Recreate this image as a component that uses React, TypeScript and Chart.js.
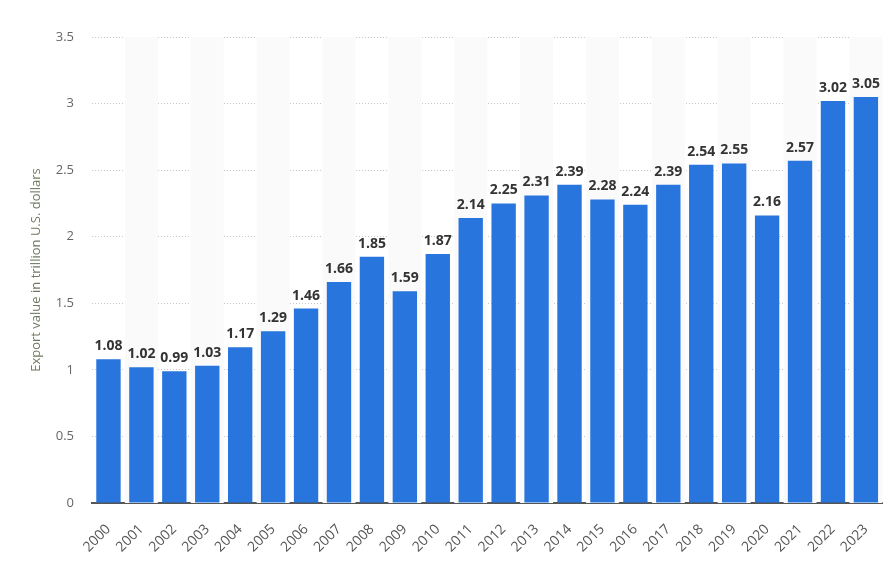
import React, { useEffect, useRef } from "react";
import { Chart, registerables } from "chart.js";

Chart.register(...registerables);

const years = ["2000","2001","2002","2003","2004","2005","2006","2007","2008","2009","2010","2011","2012","2013","2014","2015","2016","2017","2018","2019","2020","2021","2022","2023"];
const exportValues = [1.08,1.02,0.99,1.03,1.17,1.29,1.46,1.66,1.85,1.59,1.87,2.14,2.25,2.31,2.39,2.28,2.24,2.39,2.54,2.55,2.16,2.57,3.02,3.05];
const yTitle = "Export value in trillion U.S. dollars";

const stripesPlugin = {
  id: "stripes",
  beforeDatasetsDraw(chart: any) {
    const { ctx, chartArea, scales } = chart;
    const x = scales.x;
    const w = (chartArea.right - chartArea.left) / years.length;
    ctx.save();
    ctx.fillStyle = "#fafafa";
    years.forEach((_, i) => {
      if (i % 2 === 1) {
        const c = x.getPixelForValue(i);
        ctx.fillRect(c - w / 2, chartArea.top, w, chartArea.bottom - chartArea.top);
      }
    });
    ctx.restore();
  },
};

const labelsPlugin = {
  id: "barLabels",
  afterDatasetsDraw(chart: any) {
    const { ctx } = chart;
    const meta = chart.getDatasetMeta(0);
    ctx.save();
    ctx.font = "bold 14px 'Open Sans', sans-serif";
    ctx.fillStyle = "#333333";
    ctx.textAlign = "center";
    ctx.textBaseline = "alphabetic";
    meta.data.forEach((bar: any, i: number) => {
      ctx.fillText(exportValues[i].toFixed(2), bar.x, bar.y - 9);
    });
    ctx.restore();
  },
};

export default function App() {
  const ref = useRef<HTMLCanvasElement>(null);
  useEffect(() => {
    if (!ref.current) return;
    const chart = new Chart(ref.current, {
      type: "bar",
      data: {
        labels: years,
        datasets: [
          {
            data: exportValues,
            backgroundColor: "#2876dd",
            borderWidth: 0,
            categoryPercentage: 1,
            barPercentage: 0.74,
          },
        ],
      },
      options: {
        animation: false,
        responsive: false,
        maintainAspectRatio: false,
        layout: { padding: { top: 37, right: 11, left: 0, bottom: 0 } },
        plugins: { legend: { display: false }, tooltip: { enabled: false } },
        scales: {
          x: {
            grid: { display: false, drawTicks: false },
            border: { display: true, color: "#555555", width: 2 },
            ticks: {
              color: "#555555",
              font: { family: "'Open Sans', sans-serif", size: 14 },
              maxRotation: 45,
              minRotation: 45,
              autoSkip: false,
              padding: 18,
            },
            afterFit(scale: any) {
              scale.height = 75;
            },
          },
          y: {
            min: 0,
            max: 3.5,
            ticks: {
              stepSize: 0.5,
              color: "#666666",
              font: { family: "'Open Sans', sans-serif", size: 13 },
              padding: 18,
              callback: (v: any) => String(v),
            },
            grid: {
              color: "#c8c8c8",
              drawTicks: false,
              lineWidth: 1,
            },
            border: { display: false, dash: [1, 2] },
            title: {
              display: true,
              text: yTitle,
              color: "#6f7a63",
              font: { family: "'Open Sans', sans-serif", size: 13 },
              padding: { top: 28, bottom: 0 },
            },
            afterFit(scale: any) {
              scale.width = 92;
            },
          },
        },
      },
      plugins: [stripesPlugin, labelsPlugin],
    });
    return () => chart.destroy();
  }, []);
  return (
    <div style={{ position: "fixed", left: 0, top: 0, width: 896, height: 578, background: "#fff" }}>
      <canvas ref={ref} width={896} height={578} style={{ width: 896, height: 578 }} />
    </div>
  );
}
